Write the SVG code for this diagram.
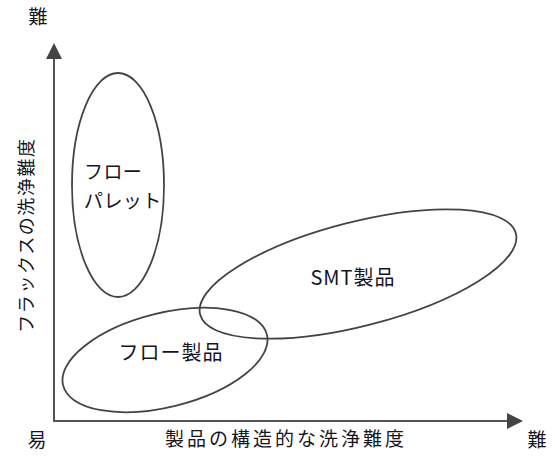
<svg xmlns="http://www.w3.org/2000/svg" width="555" height="457" viewBox="0 0 555 457">
<style>
  .t { font-family: "Noto Sans CJK JP", "DejaVu Sans", sans-serif; fill: #15151f; }
  .ax { stroke: #555; stroke-width: 2; fill: none; }
  .el { stroke: #444; stroke-width: 1.8; fill: none; }
</style>
<defs>
  <marker id="ah" viewBox="0 0 16 16" refX="2" refY="8" markerWidth="16" markerHeight="16" markerUnits="userSpaceOnUse" orient="auto">
    <path d="M0,0 L16,8 L0,16 Z" fill="#444"/>
  </marker>
</defs>
<rect width="555" height="457" fill="#fff"/>
<g id="connectors">
  <line class="ax" x1="54" y1="421" x2="54" y2="57" marker-end="url(#ah)"/>
  <line class="ax" x1="53" y1="421" x2="509" y2="421" marker-end="url(#ah)"/>
</g>
<g id="labels">
  <text class="t" x="38" y="24" font-size="19" text-anchor="middle">難</text>
  <text class="t" x="37" y="447" font-size="19" text-anchor="middle">易</text>
  <text class="t" x="537" y="447" font-size="19" text-anchor="middle">難</text>
  <text class="t" x="286" y="446" font-size="19" text-anchor="middle" letter-spacing="3">製品の構造的な洗浄難度</text>
  <text class="t" transform="translate(33,235) rotate(-90)" x="0" y="0" font-size="18" text-anchor="middle" letter-spacing="1.6">フラックスの洗浄難度</text>
</g>
<g id="flow-pallet">
  <ellipse class="el" cx="118" cy="185" rx="46" ry="112"/>
  <text class="t" x="84" y="179" font-size="19" letter-spacing="0.4">フロー</text>
  <text class="t" x="84" y="208" font-size="19" letter-spacing="0.4">パレット</text>
</g>
<g id="smt">
  <ellipse class="el" cx="358" cy="274" rx="163" ry="52" transform="rotate(-14.4 358 274)"/>
  <text class="t" x="353" y="285" font-size="20" text-anchor="middle" letter-spacing="1">SMT製品</text>
</g>
<g id="flow-product">
  <ellipse class="el" cx="165" cy="360" rx="105" ry="47" transform="rotate(-14 165 360)"/>
  <text class="t" x="171" y="360" font-size="20" text-anchor="middle" letter-spacing="1">フロー製品</text>
</g>
</svg>
